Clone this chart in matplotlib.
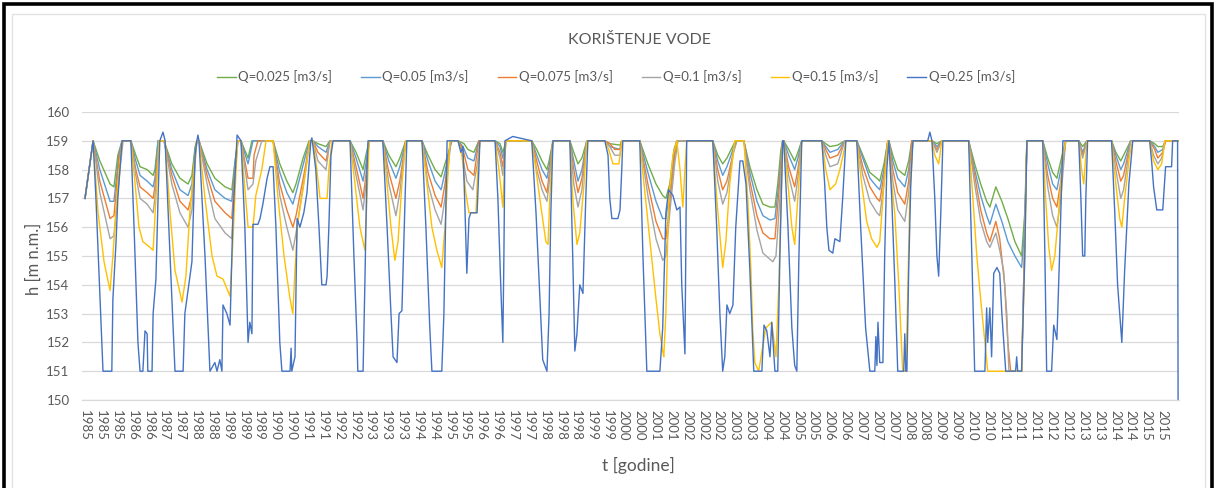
import numpy as np
import matplotlib
matplotlib.use("Agg")
import matplotlib.pyplot as plt
from matplotlib.patches import Rectangle

plt.rcParams['font.family'] = ['Lato', 'DejaVu Sans']

TITLE = "KORIŠTENJE VODE"
Y_LABEL = "h [m n.m.]"
X_LABEL = "t [godine]"
SERIES_NAMES = ["Q=0.025 [m3/s]", "Q=0.05 [m3/s]", "Q=0.075 [m3/s]",
                "Q=0.1 [m3/s]", "Q=0.15 [m3/s]", "Q=0.25 [m3/s]"]
COLORS = ["#70AD47", "#5B9BD5", "#ED7D31", "#A5A5A5", "#FFC000", "#4472C4"]

TICK_LABELS = ["1985", "1985", "1985", "1986", "1986", "1987", "1987", "1988", "1988",
               "1989", "1989", "1989", "1990", "1990", "1991", "1991", "1992", "1992",
               "1993", "1993", "1993", "1994", "1994", "1995", "1995", "1996", "1996",
               "1997", "1997", "1998", "1998", "1998", "1999", "1999", "2000", "2000",
               "2001", "2001", "2002", "2002", "2002", "2003", "2003", "2004", "2004",
               "2005", "2005", "2006", "2006", "2007", "2007", "2007", "2008", "2008",
               "2009", "2009", "2010", "2010", "2011", "2011", "2011", "2012", "2012",
               "2013", "2013", "2014", "2014", "2015", "2015"]
TICK_STEP_DAYS = 164
Y_TICKS = [150, 151, 152, 153, 154, 155, 156, 157, 158, 159, 160]

# (decimal year, water level h [m n.m.])
Q025 = [(1985.00,157.0),(1985.23,159.0),(1985.42,158.3),(1985.71,157.5),(1985.82,157.4),(1985.93,158.5),(1986.05,159.0),
        (1986.30,159.0),(1986.44,158.5),(1986.56,158.1),(1986.76,158.0),(1986.93,157.8),(1986.98,158.0),(1987.07,159.0),
        (1987.24,159.0),(1987.46,158.2),(1987.69,157.7),(1987.92,157.5),(1988.03,157.8),(1988.12,158.8),(1988.17,159.0),
        (1988.23,159.0),(1988.46,158.2),(1988.68,157.7),(1988.97,157.4),(1989.16,157.3),(1989.25,158.3),(1989.33,159.0),
        (1989.42,159.0),(1989.62,158.4),(1989.73,159.0),
        (1990.33,159.0),(1990.52,158.2),(1990.72,157.6),(1990.89,157.2),(1990.98,157.5),(1991.18,158.4),(1991.35,159.0),
        (1991.46,159.0),(1991.60,158.9),(1991.83,158.8),(1991.94,159.0),
        (1992.51,159.0),(1992.68,158.6),(1992.88,158.0),(1992.96,158.5),(1993.05,159.0),
        (1993.44,159.0),(1993.61,158.5),(1993.81,158.1),(1993.92,158.4),(1994.09,159.0),
        (1994.55,159.0),(1994.72,158.5),(1994.92,158.0),(1995.09,157.75),(1995.20,158.2),(1995.40,159.0),
        (1995.57,159.0),(1995.74,158.9),(1995.85,158.7),(1996.02,158.6),(1996.16,159.0),
        (1996.62,159.0),(1996.76,158.9),(1996.84,158.6),(1996.93,159.0),
        (1997.66,159.0),(1997.80,158.7),(1997.95,158.3),(1998.09,158.0),(1998.15,158.3),(1998.26,159.0),
        (1998.74,159.0),(1998.85,158.6),(1998.97,158.2),(1999.08,158.4),(1999.22,159.0),
        (1999.73,159.0),(1999.87,158.9),(2000.16,158.85),(2000.21,159.0),
        (2000.72,159.0),(2000.95,158.2),(2001.18,157.5),(2001.37,157.1),(2001.46,157.0),(2001.57,157.5),(2001.69,158.7),(2001.77,159.0),
        (2002.79,159.0),(2002.93,158.5),(2003.07,158.2),(2003.19,158.4),(2003.39,158.9),(2003.47,159.0),
        (2003.67,159.0),(2003.84,158.1),(2004.04,157.3),(2004.21,156.8),(2004.41,156.7),(2004.55,156.7),(2004.63,157.5),(2004.72,158.7),(2004.77,159.0),
        (2004.80,159.0),(2004.94,158.7),(2005.11,158.3),(2005.20,158.6),(2005.31,159.0),
        (2005.88,159.0),(2005.99,158.9),(2006.11,158.8),(2006.33,158.85),(2006.53,159.0),
        (2006.87,159.0),(2007.04,158.5),(2007.24,157.9),(2007.44,157.7),(2007.52,157.6),(2007.64,158.2),(2007.75,159.0),
        (2007.78,159.0),(2007.89,158.5),(2008.03,158.0),(2008.23,157.8),(2008.34,158.3),(2008.43,159.0),
        (2009.00,159.0),(2009.14,158.9),(2009.28,159.0),
        (2010.04,159.0),(2010.21,158.2),(2010.38,157.5),(2010.55,156.9),(2010.64,156.7),(2010.81,157.4),(2010.98,156.9),(2011.15,156.3),(2011.35,155.5),(2011.54,155.0),(2011.63,156.5),(2011.69,159.0),
        (2012.14,159.0),(2012.28,158.4),(2012.42,157.9),(2012.54,157.7),(2012.65,158.3),(2012.79,159.0),
        (2013.16,159.0),(2013.27,158.8),(2013.39,159.0),
        (2014.09,159.0),(2014.21,158.6),(2014.35,158.3),(2014.43,158.5),(2014.63,159.0),
        (2015.17,159.0),(2015.31,158.9),(2015.40,158.8),(2015.54,158.8),(2015.62,159.0),(2015.99,159.0)]

Q050 = [(1985.00,157.0),(1985.23,159.0),(1985.42,158.0),(1985.71,156.9),(1985.82,156.9),(1985.96,158.5),(1986.05,159.0),
        (1986.30,159.0),(1986.44,158.3),(1986.56,157.8),(1986.76,157.6),(1986.93,157.4),(1986.98,157.7),(1987.07,159.0),
        (1987.24,159.0),(1987.46,158.0),(1987.69,157.3),(1987.92,157.1),(1988.03,157.5),(1988.12,158.7),(1988.17,159.0),
        (1988.23,159.0),(1988.46,158.0),(1988.68,157.3),(1988.97,157.0),(1989.16,156.9),(1989.25,158.2),(1989.33,159.0),
        (1989.42,159.0),(1989.62,158.2),(1989.76,159.0),
        (1990.33,159.0),(1990.52,157.9),(1990.72,157.2),(1990.89,156.8),(1990.98,157.2),(1991.23,158.4),(1991.37,159.0),
        (1991.46,159.0),(1991.60,158.8),(1991.83,158.6),(1991.94,159.0),
        (1992.51,159.0),(1992.68,158.4),(1992.88,157.6),(1992.96,158.2),(1993.05,159.0),
        (1993.44,159.0),(1993.61,158.3),(1993.81,157.7),(1993.92,158.1),(1994.09,159.0),
        (1994.55,159.0),(1994.72,158.3),(1994.92,157.6),(1995.09,157.3),(1995.20,157.9),(1995.37,159.0),
        (1995.57,159.0),(1995.71,158.8),(1995.85,158.4),(1996.02,158.3),(1996.16,159.0),
        (1996.62,159.0),(1996.76,158.8),(1996.84,158.4),(1996.93,159.0),
        (1997.66,159.0),(1997.80,158.5),(1997.95,158.0),(1998.09,157.7),(1998.15,158.1),(1998.26,159.0),
        (1998.74,159.0),(1998.85,158.3),(1998.97,157.6),(1999.08,158.0),(1999.22,159.0),
        (1999.73,159.0),(1999.87,158.8),(2000.16,158.7),(2000.21,159.0),
        (2000.72,159.0),(2000.95,157.9),(2001.18,156.9),(2001.37,156.3),(2001.46,156.3),(2001.57,157.2),(2001.71,158.7),(2001.77,159.0),
        (2002.79,159.0),(2002.93,158.3),(2003.07,157.8),(2003.19,158.1),(2003.39,158.8),(2003.47,159.0),
        (2003.67,159.0),(2003.84,157.9),(2004.04,156.9),(2004.21,156.4),(2004.41,156.25),(2004.55,156.3),(2004.66,157.5),(2004.77,159.0),
        (2004.80,159.0),(2004.94,158.5),(2005.11,158.0),(2005.20,158.4),(2005.31,159.0),
        (2005.88,159.0),(2005.99,158.8),(2006.11,158.6),(2006.33,158.7),(2006.53,159.0),
        (2006.87,159.0),(2007.04,158.4),(2007.24,157.7),(2007.44,157.4),(2007.52,157.3),(2007.64,158.0),(2007.75,159.0),
        (2007.78,159.0),(2007.89,158.3),(2008.03,157.7),(2008.23,157.4),(2008.34,158.0),(2008.43,159.0),
        (2009.00,159.0),(2009.14,158.8),(2009.28,159.0),
        (2010.04,159.0),(2010.21,158.0),(2010.38,157.1),(2010.55,156.4),(2010.64,156.1),(2010.81,156.8),(2010.98,156.2),(2011.15,155.5),(2011.35,155.0),(2011.54,154.6),(2011.63,156.0),(2011.69,159.0),
        (2012.14,159.0),(2012.28,158.2),(2012.42,157.5),(2012.54,157.3),(2012.65,158.0),(2012.79,159.0),
        (2013.16,159.0),(2013.27,158.6),(2013.39,159.0),
        (2014.09,159.0),(2014.21,158.5),(2014.35,158.0),(2014.43,158.2),(2014.63,159.0),
        (2015.17,159.0),(2015.31,158.8),(2015.40,158.6),(2015.54,158.7),(2015.62,159.0),(2015.99,159.0)]

Q075 = [(1985.00,157.0),(1985.23,159.0),(1985.42,157.6),(1985.71,156.3),(1985.82,156.4),(1985.96,158.3),(1986.05,159.0),
        (1986.30,159.0),(1986.44,158.0),(1986.56,157.4),(1986.76,157.2),(1986.93,157.0),(1986.98,157.4),(1987.10,159.0),
        (1987.24,159.0),(1987.46,157.8),(1987.69,156.9),(1987.92,156.6),(1988.03,157.1),(1988.12,158.5),(1988.17,159.0),
        (1988.23,159.0),(1988.46,157.8),(1988.68,156.9),(1988.97,156.5),(1989.16,156.3),(1989.25,158.0),(1989.33,159.0),
        (1989.42,159.0),(1989.62,157.7),(1989.76,157.7),(1989.79,158.5),(1989.90,159.0),
        (1990.33,159.0),(1990.52,157.5),(1990.72,156.6),(1990.89,156.0),(1990.98,156.4),(1991.23,158.0),(1991.37,159.0),
        (1991.46,159.0),(1991.60,158.6),(1991.83,158.3),(1991.94,159.0),
        (1992.51,159.0),(1992.68,158.1),(1992.88,157.0),(1992.96,157.8),(1993.05,159.0),
        (1993.44,159.0),(1993.61,157.9),(1993.81,157.0),(1993.92,157.6),(1994.09,159.0),
        (1994.55,159.0),(1994.72,157.9),(1994.92,157.1),(1995.09,156.7),(1995.20,157.5),(1995.37,159.0),
        (1995.57,159.0),(1995.71,158.7),(1995.85,158.0),(1996.02,157.8),(1996.16,159.0),
        (1996.62,159.0),(1996.76,158.6),(1996.84,158.1),(1996.93,159.0),
        (1997.66,159.0),(1997.80,158.3),(1997.95,157.6),(1998.09,157.2),(1998.15,157.8),(1998.26,159.0),
        (1998.74,159.0),(1998.85,158.0),(1998.97,157.2),(1999.08,157.7),(1999.22,159.0),
        (1999.73,159.0),(1999.87,158.9),(2000.01,158.7),(2000.16,158.7),(2000.21,159.0),
        (2000.72,159.0),(2000.95,157.5),(2001.18,156.2),(2001.37,155.6),(2001.46,155.6),(2001.57,156.8),(2001.71,158.5),(2001.80,159.0),
        (2002.79,159.0),(2002.93,158.0),(2003.07,157.3),(2003.19,157.6),(2003.39,158.7),(2003.47,159.0),
        (2003.67,159.0),(2003.84,157.6),(2004.04,156.4),(2004.21,155.8),(2004.41,155.6),(2004.55,155.6),(2004.66,157.2),(2004.77,159.0),
        (2004.80,159.0),(2004.94,158.1),(2005.11,157.4),(2005.20,158.0),(2005.31,159.0),
        (2005.88,159.0),(2005.99,158.7),(2006.11,158.4),(2006.33,158.5),(2006.53,159.0),
        (2006.87,159.0),(2007.04,158.1),(2007.24,157.4),(2007.44,157.0),(2007.52,156.9),(2007.64,157.8),(2007.75,159.0),
        (2007.78,159.0),(2007.89,158.0),(2008.03,157.2),(2008.23,156.8),(2008.34,157.6),(2008.43,159.0),
        (2009.00,159.0),(2009.14,158.7),(2009.28,159.0),
        (2010.04,159.0),(2010.21,157.8),(2010.38,156.6),(2010.55,155.8),(2010.64,155.5),(2010.81,156.2),(2010.92,155.6),(2011.06,154.0),(2011.15,152.0),(2011.23,151.0),(2011.54,151.0),(2011.69,159.0),
        (2012.14,159.0),(2012.28,157.8),(2012.42,157.0),(2012.54,156.7),(2012.65,157.6),(2012.79,159.0),
        (2013.16,159.0),(2013.27,158.5),(2013.39,159.0),
        (2014.09,159.0),(2014.21,158.3),(2014.35,157.6),(2014.43,157.8),(2014.63,159.0),
        (2015.17,159.0),(2015.31,158.7),(2015.40,158.4),(2015.54,158.6),(2015.62,159.0),(2015.99,159.0)]

Q100 = [(1985.00,157.0),(1985.23,159.0),(1985.42,157.2),(1985.71,155.6),(1985.82,155.7),(1985.99,158.0),(1986.08,159.0),
        (1986.30,159.0),(1986.44,157.8),(1986.56,157.0),(1986.76,156.8),(1986.93,156.5),(1986.98,157.0),(1987.10,159.0),
        (1987.24,159.0),(1987.46,157.5),(1987.69,156.5),(1987.92,156.0),(1988.03,156.6),(1988.12,158.2),(1988.17,159.0),
        (1988.23,159.0),(1988.46,157.5),(1988.68,156.3),(1988.97,155.8),(1989.16,155.6),(1989.25,157.8),(1989.33,159.0),
        (1989.42,159.0),(1989.62,157.3),(1989.76,157.5),(1989.84,158.3),(1990.01,159.0),
        (1990.33,159.0),(1990.52,157.1),(1990.72,156.0),(1990.89,155.2),(1990.98,155.8),(1991.23,157.8),(1991.37,159.0),
        (1991.46,159.0),(1991.60,158.3),(1991.83,158.0),(1991.94,159.0),
        (1992.51,159.0),(1992.68,157.8),(1992.88,156.6),(1992.96,157.5),(1993.05,159.0),
        (1993.44,159.0),(1993.61,157.5),(1993.81,156.4),(1993.92,157.2),(1994.09,159.0),
        (1994.55,159.0),(1994.72,157.5),(1994.92,156.6),(1995.09,156.1),(1995.20,157.0),(1995.37,159.0),
        (1995.57,159.0),(1995.68,158.6),(1995.82,157.6),(1995.99,157.3),(1996.13,158.3),(1996.19,159.0),
        (1996.62,159.0),(1996.76,158.4),(1996.84,157.8),(1996.93,159.0),
        (1997.66,159.0),(1997.80,158.0),(1997.95,157.3),(1998.09,156.9),(1998.15,157.5),(1998.26,159.0),
        (1998.74,159.0),(1998.85,157.5),(1998.97,156.7),(1999.08,157.3),(1999.22,159.0),
        (1999.73,159.0),(1999.87,158.8),(2000.01,158.5),(2000.16,158.5),(2000.21,159.0),
        (2000.72,159.0),(2000.95,157.1),(2001.18,155.6),(2001.37,154.85),(2001.46,155.0),(2001.57,156.5),(2001.71,158.2),(2001.80,159.0),
        (2002.79,159.0),(2002.93,157.6),(2003.07,156.8),(2003.19,157.2),(2003.36,158.5),(2003.47,159.0),
        (2003.67,159.0),(2003.84,157.3),(2004.04,155.9),(2004.21,155.1),(2004.49,154.8),(2004.58,155.0),(2004.69,157.0),(2004.77,159.0),
        (2004.80,159.0),(2004.94,157.8),(2005.11,156.9),(2005.20,157.7),(2005.31,159.0),
        (2005.88,159.0),(2005.99,158.5),(2006.11,158.1),(2006.33,158.2),(2006.53,159.0),
        (2006.87,159.0),(2007.04,157.8),(2007.24,156.9),(2007.44,156.5),(2007.52,156.4),(2007.64,157.5),(2007.75,159.0),
        (2007.78,159.0),(2007.89,157.6),(2008.03,156.6),(2008.23,156.2),(2008.34,157.2),(2008.46,159.0),
        (2009.00,159.0),(2009.14,158.6),(2009.28,159.0),
        (2010.04,159.0),(2010.21,157.5),(2010.38,156.2),(2010.55,155.5),(2010.64,155.3),(2010.81,155.8),(2010.92,155.2),(2011.03,154.5),(2011.12,153.0),(2011.18,151.0),(2011.54,151.0),(2011.69,159.0),
        (2012.14,159.0),(2012.28,157.4),(2012.42,156.4),(2012.54,156.0),(2012.65,157.0),(2012.79,159.0),
        (2013.16,159.0),(2013.27,158.4),(2013.39,159.0),
        (2014.09,159.0),(2014.21,158.0),(2014.35,157.0),(2014.43,157.3),(2014.63,159.0),
        (2015.17,159.0),(2015.28,158.5),(2015.40,158.2),(2015.51,158.4),(2015.60,159.0),(2015.99,159.0)]

Q150 = [(1985.00,157.0),(1985.23,159.0),(1985.37,156.5),(1985.54,154.8),(1985.71,153.8),(1985.79,155.0),(1985.93,157.5),(1986.05,159.0),
        (1986.30,159.0),(1986.42,157.5),(1986.53,156.0),(1986.64,155.5),(1986.84,155.3),(1986.93,155.2),(1987.01,157.0),(1987.10,159.0),
        (1987.27,159.0),(1987.41,156.5),(1987.55,154.5),(1987.75,153.4),(1987.86,154.3),(1987.97,156.5),(1988.12,158.5),(1988.17,159.0),
        (1988.23,159.0),(1988.40,157.0),(1988.60,155.0),(1988.74,154.3),(1988.91,154.2),(1989.11,153.6),(1989.19,155.5),(1989.28,158.0),(1989.33,159.0),
        (1989.42,159.0),(1989.62,156.0),(1989.76,156.0),(1989.84,157.1),(1990.01,158.0),(1990.13,159.0),
        (1990.33,159.0),(1990.47,157.0),(1990.64,155.0),(1990.81,153.5),(1990.89,153.0),(1990.95,154.5),(1991.03,156.2),(1991.20,157.5),(1991.37,159.0),
        (1991.46,159.0),(1991.57,158.0),(1991.66,157.0),(1991.86,157.0),(1991.91,158.0),(1992.00,159.0),
        (1992.51,159.0),(1992.65,157.5),(1992.79,156.0),(1992.93,155.2),(1992.99,157.0),(1993.05,159.0),
        (1993.44,159.0),(1993.56,157.5),(1993.67,156.0),(1993.78,154.85),(1993.87,155.5),(1993.98,157.5),(1994.09,159.0),
        (1994.55,159.0),(1994.69,157.5),(1994.83,156.0),(1994.97,155.2),(1995.11,154.6),(1995.20,156.0),(1995.34,159.0),
        (1995.57,159.0),(1995.68,158.5),(1995.79,157.2),(1995.88,156.5),(1996.08,156.5),(1996.13,158.0),(1996.19,159.0),
        (1996.62,159.0),(1996.73,158.0),(1996.84,156.7),(1996.90,158.5),(1996.93,159.0),
        (1997.66,159.0),(1997.80,157.8),(1997.92,156.7),(1998.06,155.5),(1998.12,155.4),(1998.17,157.0),(1998.26,159.0),
        (1998.74,159.0),(1998.82,157.0),(1998.94,155.4),(1999.02,155.8),(1999.14,157.5),(1999.22,159.0),
        (1999.73,159.0),(1999.84,158.7),(1999.96,158.2),(2000.13,158.2),(2000.21,159.0),
        (2000.72,159.0),(2000.84,157.5),(2001.01,155.5),(2001.18,153.5),(2001.29,152.3),(2001.37,151.7),(2001.40,151.5),(2001.46,153.0),(2001.54,157.0),(2001.66,158.5),(2001.77,159.0),(2001.86,158.0),(2001.94,156.7),(2002.00,158.0),(2002.05,159.0),
        (2002.79,159.0),(2002.90,157.0),(2003.02,155.3),(2003.07,154.6),(2003.16,155.5),(2003.27,157.5),(2003.41,159.0),
        (2003.67,159.0),(2003.78,157.0),(2003.87,154.5),(2003.92,152.5),(2003.98,151.3),(2004.09,151.0),(2004.29,152.5),(2004.46,152.7),(2004.58,151.5),(2004.66,154.0),(2004.77,159.0),
        (2004.80,159.0),(2004.92,157.5),(2005.03,156.0),(2005.11,155.4),(2005.20,157.0),(2005.31,159.0),
        (2005.88,159.0),(2005.99,158.0),(2006.11,157.3),(2006.27,157.5),(2006.39,158.0),(2006.50,158.6),(2006.56,159.0),
        (2006.87,159.0),(2007.01,157.5),(2007.15,156.2),(2007.29,155.6),(2007.44,155.3),(2007.52,155.5),(2007.64,157.5),(2007.75,159.0),
        (2007.78,159.0),(2007.86,157.5),(2007.95,156.4),(2008.06,154.0),(2008.17,151.0),(2008.26,151.0),(2008.32,154.0),(2008.37,157.0),(2008.46,159.0),
        (2009.00,159.0),(2009.08,158.5),(2009.19,158.2),(2009.28,159.0),
        (2010.04,159.0),(2010.16,157.0),(2010.27,155.0),(2010.38,153.5),(2010.50,152.0),(2010.58,151.0),(2011.54,151.0),(2011.63,155.0),(2011.69,159.0),
        (2012.14,159.0),(2012.22,157.0),(2012.31,155.3),(2012.39,154.5),(2012.48,155.0),(2012.59,156.5),(2012.71,158.5),(2012.79,159.0),
        (2013.16,159.0),(2013.24,158.0),(2013.30,157.5),(2013.39,159.0),
        (2014.09,159.0),(2014.21,157.5),(2014.32,156.3),(2014.38,156.0),(2014.46,157.0),(2014.60,158.5),(2014.69,159.0),
        (2015.17,159.0),(2015.28,158.3),(2015.40,158.0),(2015.51,158.2),(2015.60,159.0),(2015.99,159.0)]

Q250 = [(1985.00,157.0),(1985.23,159.0),(1985.31,157.0),(1985.51,151.0),(1985.76,151.0),(1985.79,153.5),(1985.88,155.5),(1985.93,157.0),(1986.05,159.0),
        (1986.30,159.0),(1986.39,156.0),(1986.50,152.0),(1986.56,151.0),(1986.64,151.0),(1986.70,152.4),(1986.76,152.3),(1986.78,151.0),(1986.90,151.0),(1986.93,153.0),(1987.01,154.2),(1987.07,157.0),(1987.12,159.0),(1987.21,159.3),
        (1987.27,159.0),(1987.55,151.0),(1987.78,151.0),(1987.83,153.0),(1988.03,154.8),(1988.12,158.5),(1988.17,159.0),(1988.20,159.2),
        (1988.23,159.0),(1988.40,155.0),(1988.54,151.0),(1988.68,151.3),(1988.74,151.0),(1988.82,151.4),(1988.88,151.0),(1988.91,153.3),(1989.02,153.0),(1989.11,152.6),(1989.19,156.3),(1989.31,159.2),
        (1989.42,159.0),(1989.53,156.0),(1989.62,152.0),(1989.67,152.7),(1989.73,152.3),(1989.76,156.1),(1989.90,156.1),(1989.96,156.3),(1990.04,156.8),(1990.16,157.7),(1990.24,158.1),(1990.33,158.1),
        (1990.41,156.0),(1990.52,152.0),(1990.58,151.0),(1990.81,151.0),(1990.84,151.8),(1990.86,151.0),(1990.95,151.5),(1991.01,156.3),(1991.09,156.0),(1991.20,156.5),(1991.29,157.2),(1991.40,159.0),(1991.43,159.1),
        (1991.54,158.0),(1991.63,156.0),(1991.71,154.0),(1991.83,154.0),(1991.86,154.3),(1991.91,156.0),(1991.97,158.5),(1992.03,159.0),
        (1992.51,159.0),(1992.62,155.0),(1992.71,152.0),(1992.73,151.0),(1992.88,151.0),(1992.93,154.0),(1992.99,158.0),(1993.02,159.0),
        (1993.44,159.0),(1993.56,156.0),(1993.67,153.0),(1993.73,151.5),(1993.84,151.3),(1993.90,153.0),(1993.98,153.1),(1994.07,157.0),(1994.12,159.0),
        (1994.55,159.0),(1994.66,156.0),(1994.77,152.5),(1994.83,151.0),(1995.11,151.0),(1995.17,153.0),(1995.26,159.0),
        (1995.57,159.0),(1995.65,158.6),(1995.71,158.8),(1995.77,156.5),(1995.82,154.4),(1995.88,156.3),(1995.93,156.5),(1996.11,156.5),(1996.16,158.0),(1996.19,159.0),
        (1996.62,159.0),(1996.70,157.0),(1996.78,154.0),(1996.84,152.0),(1996.87,155.0),(1996.90,159.0),(1997.12,159.15),
        (1997.66,159.0),(1997.78,156.5),(1997.89,153.5),(1997.97,151.4),(1998.03,151.2),(1998.09,151.0),(1998.15,153.0),(1998.20,156.5),(1998.26,159.0),
        (1998.74,159.0),(1998.82,155.0),(1998.88,151.7),(1998.94,152.3),(1999.02,154.0),(1999.11,153.7),(1999.19,157.0),(1999.25,159.0),
        (1999.73,159.0),(1999.82,158.5),(1999.87,157.0),(1999.93,156.3),(2000.10,156.3),(2000.16,156.6),(2000.21,158.0),(2000.24,159.0),
        (2000.72,159.0),(2000.81,155.0),(2000.92,151.0),(2001.29,151.0),(2001.37,152.5),(2001.46,156.5),(2001.54,157.3),(2001.66,157.1),(2001.77,156.6),(2001.86,156.7),(2001.91,154.0),(2002.00,151.6),(2002.05,159.0),
        (2002.79,159.0),(2002.90,156.0),(2002.99,153.0),(2003.07,151.0),(2003.13,151.5),(2003.19,153.3),(2003.27,153.0),(2003.36,153.3),(2003.44,156.0),(2003.56,158.3),(2003.64,158.3),
        (2003.73,157.5),(2003.84,154.5),(2003.95,151.0),(2004.18,151.0),(2004.24,152.6),(2004.32,152.4),(2004.41,151.5),(2004.46,152.7),(2004.55,151.0),(2004.63,151.0),(2004.69,155.0),(2004.77,159.0),
        (2004.80,159.0),(2004.92,156.0),(2005.03,152.5),(2005.11,151.2),(2005.17,151.0),(2005.23,155.0),(2005.31,159.0),
        (2005.88,159.0),(2005.96,157.5),(2006.02,156.0),(2006.08,155.2),(2006.19,155.1),(2006.25,155.6),(2006.39,155.5),(2006.47,157.0),(2006.56,159.0),
        (2006.87,159.0),(2006.98,156.0),(2007.12,152.5),(2007.24,151.0),(2007.38,151.0),(2007.41,152.2),(2007.44,151.2),(2007.47,152.7),(2007.52,151.3),(2007.61,151.3),(2007.66,155.0),(2007.72,158.0),(2007.78,159.0),
        (2007.86,157.0),(2007.95,154.0),(2008.03,151.0),(2008.20,151.0),(2008.23,152.3),(2008.26,151.0),(2008.29,151.0),(2008.34,154.5),(2008.40,157.5),(2008.46,159.0),
        (2008.88,159.0),(2008.94,159.3),(2009.00,159.0),(2009.08,157.0),(2009.14,155.0),(2009.19,154.3),(2009.25,156.5),(2009.31,159.0),
        (2010.04,159.0),(2010.13,155.0),(2010.21,151.0),(2010.50,151.0),(2010.55,153.2),(2010.58,152.0),(2010.64,153.2),(2010.69,151.5),(2010.75,154.4),(2010.84,154.6),(2010.92,154.4),(2010.98,153.0),(2011.09,151.0),(2011.37,151.0),(2011.40,151.5),(2011.43,151.0),(2011.54,151.0),(2011.63,155.0),(2011.69,159.0),
        (2012.14,159.0),(2012.20,155.0),(2012.25,151.0),(2012.39,151.0),(2012.45,152.6),(2012.54,152.1),(2012.62,155.2),(2012.71,159.0),
        (2013.16,159.0),(2013.22,157.0),(2013.27,155.0),(2013.33,155.0),(2013.36,157.0),(2013.41,159.0),
        (2014.09,159.0),(2014.18,156.5),(2014.26,154.0),(2014.38,152.0),(2014.46,154.5),(2014.58,157.5),(2014.69,159.0),
        (2015.17,159.0),(2015.23,158.2),(2015.28,157.4),(2015.37,156.6),(2015.54,156.6),(2015.62,158.1),(2015.79,158.1),(2015.82,159.0),(2015.96,159.0),(2015.99,140.0)]

SERIES = [Q025, Q050, Q075, Q100, Q150, Q250]

W, H = 1217, 488
fig = plt.figure(figsize=(W / 100, H / 100), dpi=100)
fig.patch.set_facecolor("white")

# outer black frame and inner light chart-area frame
fig.add_artist(Rectangle((4 / W, -0.02), (1212 - 4) / W, 1.02 - 4 / H,
                         transform=fig.transFigure, fill=False, ec="black", lw=2.6))
fig.add_artist(Rectangle((12 / W, -0.02), (1205 - 12) / W, 1.02 - 14 / H,
                         transform=fig.transFigure, fill=False, ec="#E3E3E3", lw=1.0))

ax = fig.add_axes([82 / W, 88 / H, (1179 - 82) / W, 288 / H])
ax.set_facecolor("none")

for data, name, col in zip(SERIES, SERIES_NAMES, COLORS):
    t = [p[0] for p in data]
    h = [p[1] for p in data]
    ax.plot(t, h, color=col, lw=1.0, label=name, solid_joinstyle="round")

ax.set_ylim(150, 160)
ax.set_xlim(1984.915, 2016.0)
ax.set_yticks(Y_TICKS)
ax.set_yticklabels([str(v) for v in Y_TICKS])
tick_pos = 1985 + np.arange(len(TICK_LABELS)) * TICK_STEP_DAYS / 365.25
ax.set_xticks(tick_pos)
ax.set_xticklabels(TICK_LABELS, rotation=270, ha="center", va="top")
ax.tick_params(axis="both", length=0, colors="#595959", labelsize=9.5)
ax.tick_params(axis="y", pad=9)
ax.tick_params(axis="x", pad=7)
ax.yaxis.grid(True, color="#D9D9D9", lw=0.9)
ax.set_axisbelow(True)
for s in ["top", "left", "right"]:
    ax.spines[s].set_visible(False)
ax.spines["bottom"].set_color("#D9D9D9")
ax.spines["bottom"].set_linewidth(0.9)

fig.text(640 / W, 1 - 40 / H, TITLE, ha="center", va="center", color="#595959", fontsize=11.5)
fig.text(638 / W, 1 - 465 / H, X_LABEL, ha="center", va="center", color="#595959", fontsize=12.5)
fig.text(34 / W, 1 - 259 / H, Y_LABEL, ha="center", va="center", rotation=90, color="#595959", fontsize=12)

leg = fig.legend(loc="center", bbox_to_anchor=(616 / W, 1 - 77 / H), ncol=6, frameon=False,
                 fontsize=9.5, handlelength=1.4, handletextpad=0.2, columnspacing=2.2,
                 labelcolor="#595959")

fig.savefig("out.png", dpi=100, facecolor="white")
